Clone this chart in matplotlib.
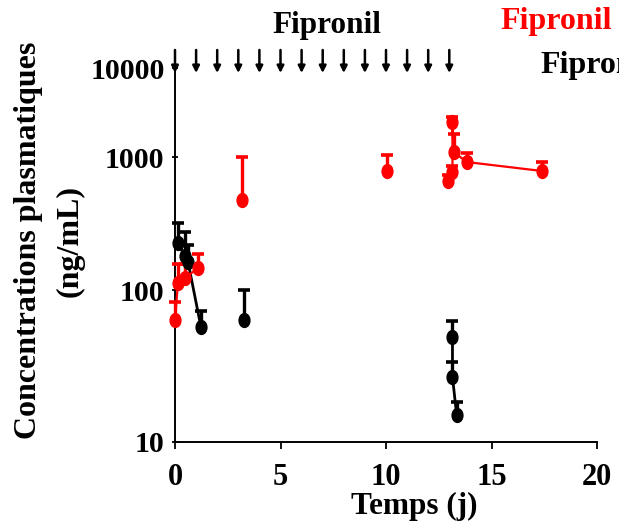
import numpy as np
import matplotlib
matplotlib.use("Agg")
import matplotlib.pyplot as plt
from matplotlib.path import Path
from matplotlib.transforms import Affine2D

# ---------------- data ----------------
dose_days = [0, 1, 2, 3, 4, 5, 6, 7, 8, 9, 10, 11, 12, 13]

# Fipronil (red)
red_dose1_t = [0.0, 0.14, 0.47, 1.09]
red_dose1_c = [63.5, 113, 123, 146]
red_dose1_up = [83, 157, 157, 186]

red_trough_t = [3.18, 10.05]
red_trough_c = [475, 785]
red_trough_up = [1000, 1053]

red_last_t = [12.95, 13.15, 13.15, 13.2, 13.84, 17.39]
red_last_c = [661, 771, 2470, 1138, 916, 785]
red_last_up = [733, 855, 2810, 1811, 1109, 917]

# Fipronil metabolite (black)
blk_dose1_t = [0.14, 0.47, 0.62, 1.23]
blk_dose1_c = [225, 180, 162, 57]
blk_dose1_up = [319, 273, 218, 73]

blk_trough_t = [3.27]
blk_trough_c = [63.5]
blk_trough_up = [100]

blk_last_t = [13.15, 13.15, 13.35]
blk_last_c = [49, 26.8, 15]
blk_last_up = [62.5, 33.6, 18.3]

x_ticks = [0, 5, 10, 15, 20]
y_ticks = [10, 100, 1000, 10000]
y_tick_labels = ["10", "100", "1000", "10000"]

# ---------------- style ----------------
plt.rcParams['font.family'] = ['Liberation Serif', 'DejaVu Serif']
plt.rcParams['font.weight'] = 'bold'

W, H = 619, 527
fig = plt.figure(figsize=(W / 100, H / 100), dpi=100)
ax = fig.add_axes([175 / W, 1 - 442 / H, (597 - 175) / W, (442 - 68) / H])

# piecewise log scale reproducing the reference's decade spacing
_L = [-20, 1, 2, 3, 4, 20]
_F = [-3192, 0, 152, 285, 374, 1798]


def fwd(y):
    y = np.asarray(y, dtype=float)
    l = np.log10(np.clip(y, 1e-20, None))
    return np.interp(l, _L, _F)


def inv(f):
    f = np.asarray(f, dtype=float)
    return 10 ** np.interp(f, _F, _L)


ax.set_yscale('function', functions=(fwd, inv))

ell = Path.unit_circle().transformed(Affine2D().scale(0.78, 1.0))


def series(t, c, up, color, line, lw):
    ax.vlines(t, c, up, colors=color, linewidth=2.4, zorder=3, clip_on=False)
    ax.plot(t, up, linestyle='none', marker='_', markersize=9,
            markeredgewidth=2.6, color=color, zorder=3, clip_on=False)
    if line:
        ax.plot(t, c, color=color, lw=lw, zorder=3, clip_on=False)
    ax.plot(t, c, linestyle='none', marker=ell, markersize=10,
            color=color, markeredgecolor=color, zorder=4, clip_on=False)


series(blk_dose1_t, blk_dose1_c, blk_dose1_up, 'black', True, 2.0)
series(blk_trough_t, blk_trough_c, blk_trough_up, 'black', False, 2.0)
series(blk_last_t, blk_last_c, blk_last_up, 'black', True, 2.0)

series(red_dose1_t, red_dose1_c, red_dose1_up, '#ff0000', True, 1.6)
series(red_trough_t, red_trough_c, red_trough_up, '#ff0000', False, 1.6)
series(red_last_t, red_last_c, red_last_up, '#ff0000', True, 1.6)

ax.set_xlim(0, 20)
ax.set_ylim(10, 10000)

ax.set_xticks(x_ticks)
ax.set_xticklabels([str(v) for v in x_ticks])
ax.set_yticks(y_ticks)
ax.set_yticklabels(y_tick_labels)
ax.yaxis.set_minor_locator(matplotlib.ticker.NullLocator())
ax.xaxis.set_minor_locator(matplotlib.ticker.NullLocator())

ax.tick_params(axis='x', direction='out', length=5, width=1.3, pad=10,
               labelsize=22)
ax.tick_params(axis='y', direction='inout', length=5, width=1.3, pad=5,
               labelsize=21.5)

for s in ['top', 'right']:
    ax.spines[s].set_visible(False)
for s in ['left', 'bottom']:
    ax.spines[s].set_linewidth(1.4)

# dosing arrows
for d in dose_days:
    ax.annotate('', xy=(d, H - 73), xytext=(d, H - 50),
                xycoords=('data', 'figure pixels'),
                textcoords=('data', 'figure pixels'),
                arrowprops=dict(arrowstyle='-|>', color='black', lw=1.8,
                                mutation_scale=10, shrinkA=0, shrinkB=0),
                annotation_clip=False)

# texts
fig.text(327 / W, 1 - 26 / H, 'Fipronil', ha='center', va='center',
         fontsize=22.5, fontweight='bold', color='black')
fig.text(556 / W, 1 - 21 / H, 'Fipronil', ha='center', va='center',
         fontsize=23, fontweight='bold', color='#ff0000')
fig.text(540 / W, 1 - 66 / H, 'Fipronil', ha='left', va='center',
         fontsize=23, fontweight='bold', color='black')

fig.text(414 / W, 1 - 506 / H, 'Temps (j)', ha='center', va='center',
         fontsize=22.5, fontweight='bold')
fig.text(29 / W, 1 - 240 / H, 'Concentrations plasmatiques', ha='center',
         va='center', rotation=90, fontsize=23, fontweight='bold')
fig.text(70 / W, 1 - 241 / H, '(ng/mL)', ha='center', va='center',
         rotation=90, fontsize=23, fontweight='bold')

fig.savefig('out.png', dpi=100)
